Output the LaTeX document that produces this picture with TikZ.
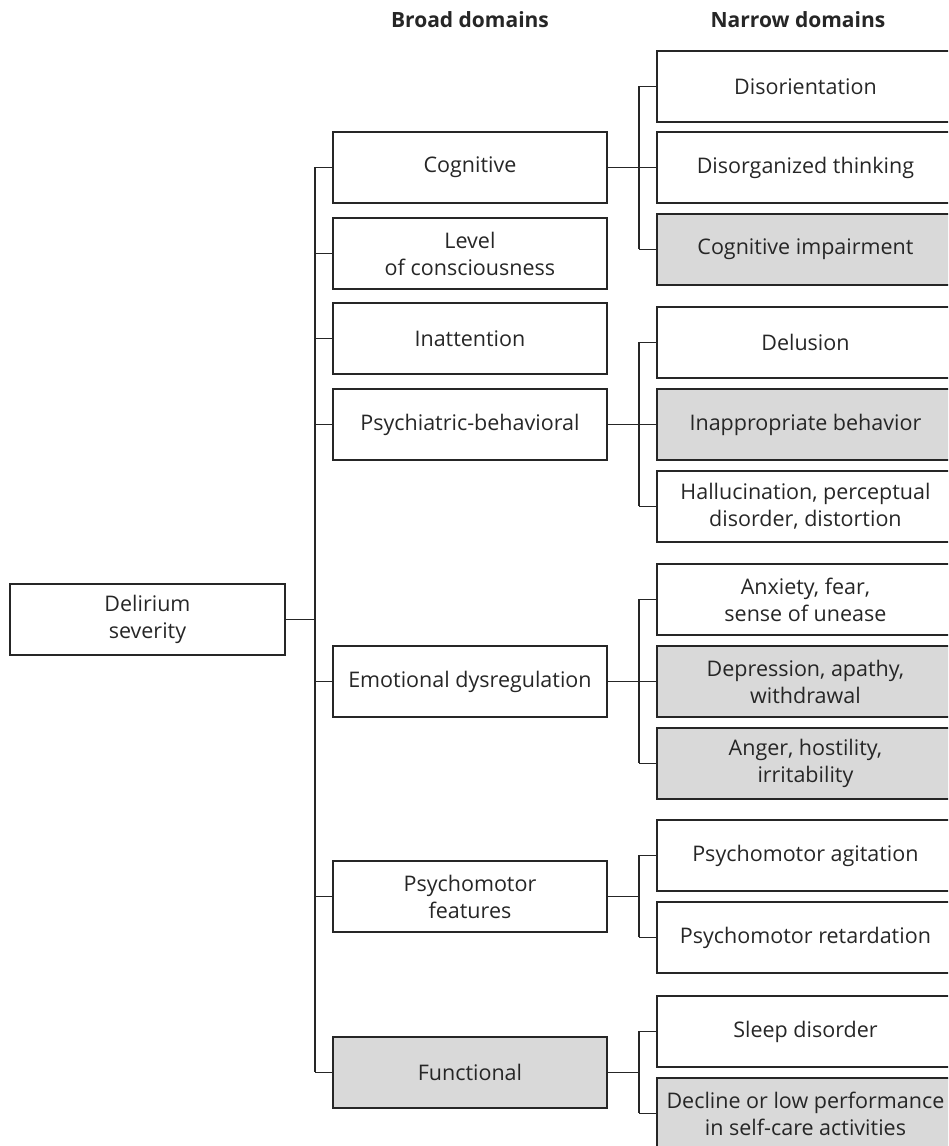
\documentclass[tikz,border=0pt]{standalone}
\usepackage{fontspec}
\setmainfont{Open Sans}
\begin{document}
\begin{tikzpicture}[x=1pt,y=-1pt,
  box/.style={draw=black!85,line width=1.9pt,rectangle,inner sep=0pt,align=center,
    font=\fontsize{21.5}{27}\selectfont,text=black!85,anchor=north west},
  broad/.style={box,minimum width=274pt,minimum height=71pt},
  narrow/.style={box,minimum width=297pt,minimum height=71pt},
  shade/.style={fill=black!15},
  link/.style={draw=black!85,line width=1.9pt},
  head/.style={font=\fontsize{21}{25}\selectfont\bfseries,text=black!85}]
\useasboundingbox (0,0) rectangle (948,1146);
\clip (0,0) rectangle (948,1146);
% headers
\node[head] (h1) at (470,20) {Broad domains};
\node[head] (h2) at (798,20) {Narrow domains};
% root
\node[box,minimum width=275pt,minimum height=71pt] (root) at (9,583) {Delirium\\severity};
% broad
\node[broad] (cog) at (332,131) {Cognitive};
\node[broad] (loc) at (332,217) {Level\\of consciousness};
\node[broad] (ina) at (332,302) {Inattention};
\node[broad] (psy) at (332,388) {Psychiatric-behavioral};
\node[broad] (emo) at (332,645) {Emotional dysregulation};
\node[broad] (pmf) at (332,860) {Psychomotor\\features};
\node[broad,shade] (fun) at (332,1036) {Functional};
% narrow
\node[narrow] (n1) at (656,50) {Disorientation};
\node[narrow] (n2) at (656,131) {Disorganized thinking};
\node[narrow,shade] (n3) at (656,213) {Cognitive impairment};
\node[narrow] (n4) at (656,306) {Delusion};
\node[narrow,shade] (n5) at (656,388) {Inappropriate behavior};
\node[narrow] (n6) at (656,470) {Hallucination, perceptual\\disorder, distortion};
\node[narrow] (n7) at (656,563) {Anxiety, fear,\\sense of unease};
\node[narrow,shade] (n8) at (656,645) {Depression, apathy,\\withdrawal};
\node[narrow,shade] (n9) at (656,727) {Anger, hostility,\\irritability};
\node[narrow] (n10) at (656,819) {Psychomotor agitation};
\node[narrow] (n11) at (656,901) {Psychomotor retardation};
\node[narrow] (n12) at (656,995) {Sleep disorder};
\node[narrow,shade] (n13) at (656,1077) {Decline or low performance\\in self-care activities};
% trunk
\coordinate (tx) at (315,0);
\draw[link] (root.east) -- (tx |- root.east);
\draw[link] (tx |- cog.west) -- (tx |- fun.west);
\foreach \b in {cog,loc,ina,psy,emo,pmf,fun}
  \draw[link] (tx |- \b.west) -- (\b.west);
% groups
\coordinate (sx) at (639,0);
\draw[link] (cog.east) -- (n2.west);
\draw[link] (sx |- n1.west) -- (sx |- n3.west);
\draw[link] (psy.east) -- (n5.west);
\draw[link] (sx |- n4.west) -- (sx |- n6.west);
\draw[link] (emo.east) -- (n8.west);
\draw[link] (sx |- n7.west) -- (sx |- n9.west);
\draw[link] (pmf.east) -- (sx |- pmf.east);
\draw[link] (sx |- n10.west) -- (sx |- n11.west);
\draw[link] (fun.east) -- (sx |- fun.east);
\draw[link] (sx |- n12.west) -- (sx |- n13.west);
\foreach \n in {n1,n3,n4,n6,n7,n9,n10,n11,n12,n13}
  \draw[link] (sx |- \n.west) -- (\n.west);
\end{tikzpicture}
\end{document}
